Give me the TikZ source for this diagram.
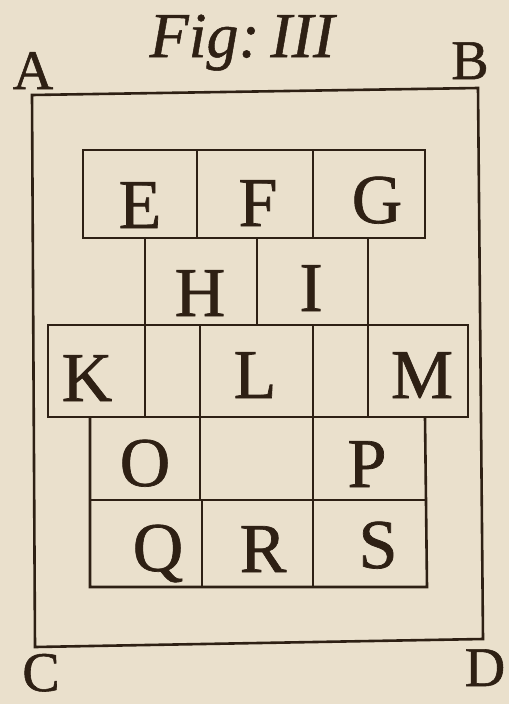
\documentclass[tikz,border=0pt]{standalone}
\usepackage{xcolor}
\usepackage{fontspec}
\newfontfamily\capfont[FakeBold=1.0]{Liberation Serif}
\newfontfamily\titlefont[ItalicFeatures={FakeBold=0.8}]{Liberation Serif}
\definecolor{paper}{HTML}{EAE0CC}
\definecolor{ink}{HTML}{2E2014}
\begin{document}
\begin{tikzpicture}[x=1pt,y=-1pt,
  rule/.style={draw=ink,line width=2.6pt,line join=miter},
  cell/.style={anchor=base,text=ink,inner sep=0pt,font=\capfont\fontsize{70}{70}\selectfont},
  corner/.style={anchor=base,text=ink,inner sep=0pt,font=\capfont\fontsize{56}{56}\selectfont},
  title/.style={anchor=base,text=ink,inner sep=0pt,font=\titlefont\itshape\fontsize{64}{64}\selectfont}]
\fill[paper] (0,0) rectangle (509,704);
\useasboundingbox (0,0) rectangle (509,704);
% outer frame
\draw[rule] (32,95) -- (478,88) -- (483,639) -- (35,647) -- cycle;
% row 1
\draw[rule] (83,150) rectangle (425,238);
\draw[rule] (197,150) -- (197,238) (313,150) -- (313,238);
% row 2
\draw[rule] (145,238) -- (145,325) (257,238) -- (257,325) (368,238) -- (368,325);
% row 3
\draw[rule] (48,325) rectangle (468,417);
\draw[rule] (145,325) -- (145,417) (200,325) -- (200,417) (313,325) -- (313,417) (368,325) -- (368,417);
% rows 4-5
\draw[rule] (90,417) -- (90,587) -- (427,587) -- (425,417);
\draw[rule] (90,500) -- (425,500);
\draw[rule] (200,417) -- (200,500) (202,500) -- (202,587) (313,417) -- (313,587);
% labels
\node[title] (fig) at (242,57) {Fig:\,III};
\node[corner] (A) at (33,89) {A};
\node[corner] (B) at (470,79) {B};
\node[corner] (C) at (41,691) {C};
\node[corner] (D) at (485,686) {D};
\node[cell] (E) at (140,228) {E};
\node[cell] (F) at (258,226) {F};
\node[cell] (G) at (377,223) {G};
\node[cell] (H) at (200,316) {H};
\node[cell] (I) at (311,311) {I};
\node[cell] (K) at (87,401) {K};
\node[cell] (L) at (255,398) {L};
\node[cell] (M) at (422,398) {M};
\node[cell] (O) at (145,486) {O};
\node[cell] (P) at (367,487) {P};
\node[cell] (Q) at (158,571) {Q};
\node[cell] (R) at (263,572) {R};
\node[cell] (S) at (378,568) {S};
\end{tikzpicture}
\end{document}
